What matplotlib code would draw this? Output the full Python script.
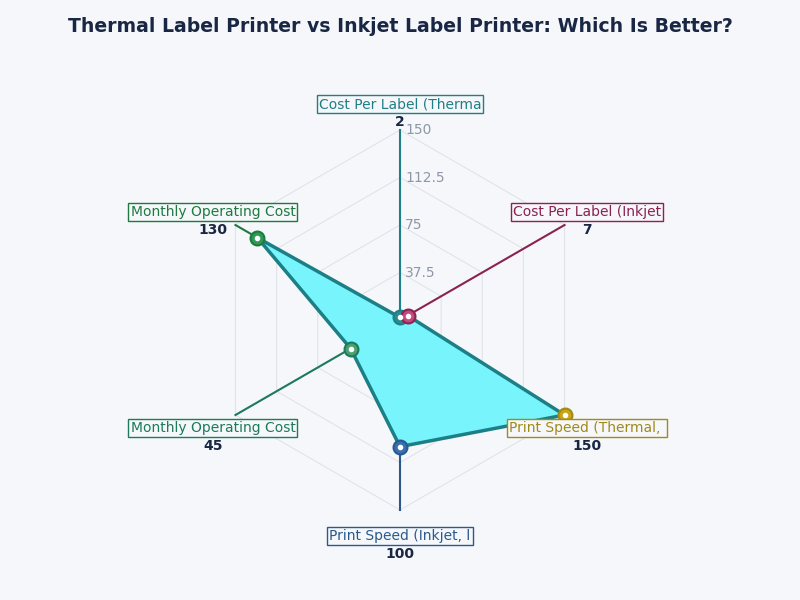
import matplotlib
matplotlib.use("Agg")
import matplotlib.pyplot as plt
import numpy as np

TITLE = "Thermal Label Printer vs Inkjet Label Printer: Which Is Better?"
CATEGORIES = [
    "Cost Per Label (Thermal)",
    "Cost Per Label (Inkjet)",
    "Print Speed (Thermal, labels/min)",
    "Print Speed (Inkjet, labels/min)",
    "Monthly Operating Cost (Inkjet)",
    "Monthly Operating Cost (Thermal)",
]
VALUES = [2, 7, 150, 100, 45, 130]
RTICKS = [37.5, 75, 112.5, 150]
RMAX = 150

AXIS_COLORS = ["#1f7f86", "#8b2252", "#a08a1a", "#2a5a8c", "#1d7a5a", "#1f7a3f"]
MARKER_COLORS = ["#2a8a92", "#c4487e", "#c9a515", "#3a6fb5", "#4aa070", "#2e9a55"]
BG = "#f5f7fa"

fig = plt.figure(figsize=(8, 6), dpi=100, facecolor=BG)
ax = fig.add_axes([0.2625, 0.15, 0.475, 0.6333], projection="polar")
ax.set_facecolor(BG)
ax.set_theta_offset(np.pi / 2)
ax.set_theta_direction(-1)
ax.set_ylim(0, RMAX)
ax.set_xticks([])
ax.set_yticks([])
ax.grid(False)
ax.spines["polar"].set_visible(False)

n = len(CATEGORIES)
angles = np.linspace(0, 2 * np.pi, n, endpoint=False)
closed = np.append(angles, angles[0])

# hexagonal grid
for r in RTICKS:
    ax.plot(closed, [r] * (n + 1), color="#e0e4e9", lw=0.8, zorder=1, clip_on=False)
for a in angles:
    ax.plot([a, a], [0, RMAX], color="#e0e4e9", lw=0.8, zorder=1, clip_on=False)

for r in RTICKS:
    ax.annotate(f"{r:g}", (0, r), xytext=(5, 0), textcoords="offset pixels",
                ha="left", va="center", fontsize=10, color="#8e97a8", zorder=6,
                annotation_clip=False)

# spokes from point to outer edge
for a, v, c in zip(angles, VALUES, AXIS_COLORS):
    ax.plot([a, a], [v, RMAX], color=c, lw=1.5, zorder=2, clip_on=False)

vals = VALUES + VALUES[:1]
ax.fill(closed, vals, color="#78f4fc", alpha=1, zorder=3, clip_on=False)
ax.plot(closed, vals, color="#1d7f86", lw=2.5, zorder=4, clip_on=False)

for a, v, c, mc in zip(angles, VALUES, AXIS_COLORS, MARKER_COLORS):
    ax.plot(a, v, "o", ms=10, mfc=mc, mec=c, mew=1.5, zorder=5, clip_on=False)
    ax.plot(a, v, "o", ms=3, mfc="white", mec="white", zorder=6, clip_on=False)

label_r = 170.5
for a, name, v, c in zip(angles, CATEGORIES, VALUES, AXIS_COLORS):
    ax.text(a, label_r, name[:22], ha="center", va="center", fontsize=10, color=c,
            bbox=dict(boxstyle="square,pad=0.15", fc=BG, ec=c, lw=1), zorder=7,
            clip_on=False)
    ax.annotate(str(v), (a, label_r), xytext=(0, -18), textcoords="offset pixels",
                ha="center", va="center", fontsize=10, fontweight="bold",
                color="#1a2744", zorder=7, annotation_clip=False)

fig.text(0.5, 0.955, TITLE, ha="center", va="center", fontsize=13.6,
         fontweight="bold", color="#1a2744")

fig.savefig("out.png", dpi=100, facecolor=BG)
